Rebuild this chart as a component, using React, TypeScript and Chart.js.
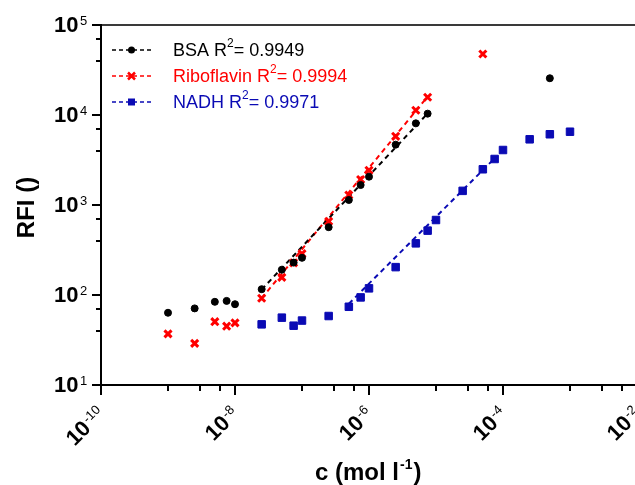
import React, { useEffect, useRef } from "react";
import { Chart, registerables } from "chart.js";

Chart.register(...registerables);

const FONT = '"Liberation Sans", Arial, Helvetica, sans-serif';

// ---- data ----
const bsaX = [1e-9, 2.5e-9, 5e-9, 7.5e-9, 1e-8, 2.5e-8, 5e-8, 7.5e-8, 1e-7, 2.5e-7, 5e-7, 7.5e-7, 1e-6, 2.5e-6, 5e-6, 7.5e-6, 5e-4];
const bsaY = [63.5, 71, 84, 86, 79, 116, 191, 229, 259, 567, 1137, 1667, 2064, 4680, 8080, 10350, 25600];

const riboX = [1e-9, 2.5e-9, 5e-9, 7.5e-9, 1e-8, 2.5e-8, 5e-8, 7.5e-8, 1e-7, 2.5e-7, 5e-7, 7.5e-7, 1e-6, 2.5e-6, 5e-6, 7.5e-6, 5e-5];
const riboY = [37, 29, 50.5, 45, 49, 92, 157, 228, 288, 658, 1291, 1920, 2430, 5800, 11300, 15740, 47600];

const nadhX = [2.5e-8, 5e-8, 7.5e-8, 1e-7, 2.5e-7, 5e-7, 7.5e-7, 1e-6, 2.5e-6, 5e-6, 7.5e-6, 1e-5, 2.5e-5, 5e-5, 7.5e-5, 1e-4, 2.5e-4, 5e-4, 1e-3];
const nadhY = [47.2, 56, 45.6, 52, 58.4, 74, 94, 118.6, 204, 375, 519, 681, 1436, 2494, 3245, 4083, 5370, 6110, 6520];

// linear-fit lines (end points)
const bsaFitX = [2.5e-8, 7.5e-6];
const bsaFitY = [115, 10400];
const riboFitX = [2.5e-8, 7.5e-6];
const riboFitY = [92, 16000];
const nadhFitX = [5e-7, 7.5e-5];
const nadhFitY = [80, 3300];

// legend
const seriesNames = ["BSA", "Riboflavin", "NADH"];
const r2Values = ["0.9949", "0.9994", "0.9971"];

// axes / ticks
const xMajorTicks = [1e-10, 1e-8, 1e-6, 1e-4, 1e-2];
const xTickExponents = ["-10", "-8", "-6", "-4", "-2"];
const xMinorTicks = [1e-9, 3e-9, 6e-9, 1e-7, 3e-7, 6e-7, 1e-5, 3e-5, 6e-5, 1e-3, 3e-3, 6e-3];
const yMajorTicks = [10, 100, 1000, 10000, 100000];
const yTickExponents = ["1", "2", "3", "4", "5"];
const yMinorTicks = [40, 70, 400, 700, 4000, 7000, 40000, 70000];
const xTitleMain = "c (mol l";
const xTitleSup = "-1";
const xTitleEnd = ")";
const yTitle = "RFI ()";

const BLACK = "#000000";
const RED = "#ff0000";
const BLUE = "#0a0ab4";
const colors = [BLACK, RED, BLUE];

const pts = (xs: number[], ys: number[]) => xs.map((x, i) => ({ x, y: ys[i] }));

function drawMarker(ctx: CanvasRenderingContext2D, kind: number, x: number, y: number) {
  ctx.save();
  if (kind === 0) {
    ctx.fillStyle = BLACK;
    ctx.beginPath();
    ctx.arc(x, y, 3.5, 0, Math.PI * 2);
    ctx.fill();
  } else if (kind === 1) {
    ctx.strokeStyle = RED;
    ctx.lineWidth = 2.5;
    const s = 3.5;
    ctx.beginPath();
    ctx.moveTo(x - s, y - s);
    ctx.lineTo(x + s, y + s);
    ctx.moveTo(x + s, y - s);
    ctx.lineTo(x - s, y + s);
    ctx.stroke();
  } else {
    ctx.fillStyle = BLUE;
    ctx.fillRect(x - 3.5, y - 3.5, 7, 7);
  }
  ctx.restore();
}

const decorPlugin = {
  id: "decor",
  afterDraw(chart: any) {
    const ctx: CanvasRenderingContext2D = chart.ctx;
    const xs = chart.scales.x;
    const ys = chart.scales.y;
    const { left, right, top, bottom } = chart.chartArea;
    ctx.save();

    // frame
    ctx.strokeStyle = "#3a3a3a";
    ctx.lineWidth = 2;
    ctx.beginPath();
    ctx.moveTo(left, top);
    ctx.lineTo(right, top);
    ctx.lineTo(right, bottom);
    ctx.stroke();
    ctx.strokeStyle = "#000";
    ctx.beginPath();
    ctx.moveTo(left, top - 1);
    ctx.lineTo(left, bottom);
    ctx.lineTo(right, bottom);
    ctx.stroke();

    // tick marks
    ctx.lineWidth = 2;
    ctx.beginPath();
    for (const v of xMajorTicks) {
      const px = Math.round(xs.getPixelForValue(v));
      ctx.moveTo(px, bottom);
      ctx.lineTo(px, bottom + 10);
    }
    for (const v of xMinorTicks) {
      const px = Math.round(xs.getPixelForValue(v));
      ctx.moveTo(px, bottom);
      ctx.lineTo(px, bottom + 6);
    }
    for (const v of yMajorTicks) {
      const py = Math.round(ys.getPixelForValue(v));
      ctx.moveTo(left, py);
      ctx.lineTo(left - 9, py);
    }
    for (const v of yMinorTicks) {
      const py = Math.round(ys.getPixelForValue(v));
      ctx.moveTo(left, py);
      ctx.lineTo(left - 5, py);
    }
    ctx.stroke();

    // y tick labels
    ctx.fillStyle = "#000";
    yMajorTicks.forEach((v, i) => {
      const py = ys.getPixelForValue(v);
      ctx.font = "bold 22px " + FONT;
      ctx.textAlign = "right";
      ctx.textBaseline = "middle";
      ctx.fillText("10", 78.5, py + 1);
      ctx.font = "13px " + FONT;
      ctx.textAlign = "left";
      ctx.textBaseline = "alphabetic";
      ctx.fillText(yTickExponents[i], 80, py);
    });

    // x tick labels (rotated)
    xMajorTicks.forEach((v, i) => {
      const px = xs.getPixelForValue(v);
      ctx.save();
      ctx.translate(px, bottom + 25.5);
      ctx.rotate(-Math.PI / 4);
      ctx.font = "13px " + FONT;
      const ew = ctx.measureText(xTickExponents[i]).width;
      ctx.textAlign = "right";
      ctx.textBaseline = "alphabetic";
      ctx.fillText(xTickExponents[i], 0, 0);
      ctx.font = "bold 22px " + FONT;
      ctx.textBaseline = "middle";
      ctx.fillText("10", -ew - 1, 1);
      ctx.restore();
    });

    // axis titles
    ctx.save();
    ctx.translate(33.5, 207.5);
    ctx.rotate(-Math.PI / 2);
    ctx.font = "bold 24px " + FONT;
    ctx.textAlign = "center";
    ctx.textBaseline = "alphabetic";
    ctx.fillText(yTitle, 0, 0);
    ctx.restore();

    {
      let x = 315;
      const by = 480;
      ctx.textAlign = "left";
      ctx.textBaseline = "alphabetic";
      ctx.font = "bold 24px " + FONT;
      ctx.fillText(xTitleMain, x, by);
      x += ctx.measureText(xTitleMain).width + 1;
      ctx.font = "bold 14px " + FONT;
      ctx.fillText(xTitleSup, x, by - 11);
      x += ctx.measureText(xTitleSup).width + 1;
      ctx.font = "bold 24px " + FONT;
      ctx.fillText(xTitleEnd, x, by);
    }

    // legend
    const rows = [50, 76, 102];
    seriesNames.forEach((name, i) => {
      const y = rows[i];
      ctx.save();
      ctx.strokeStyle = colors[i];
      ctx.lineWidth = 1.5;
      ctx.setLineDash([4, 3]);
      ctx.beginPath();
      ctx.moveTo(112, y);
      ctx.lineTo(151, y);
      ctx.stroke();
      ctx.restore();
      drawMarker(ctx, i, 131.5, y);

      ctx.fillStyle = colors[i];
      ctx.textAlign = "left";
      ctx.textBaseline = "middle";
      let x = 173;
      ctx.font = "18px " + FONT;
      const a = name + " R";
      ctx.fillText(a, x, y + 1);
      x += ctx.measureText(a).width;
      ctx.font = "12px " + FONT;
      ctx.fillText("2", x, y - 6);
      x += ctx.measureText("2").width;
      ctx.font = "18px " + FONT;
      ctx.fillText("= " + r2Values[i], x, y + 1);
    });

    ctx.restore();
  },
};

export default function App() {
  const ref = useRef<HTMLCanvasElement>(null);
  useEffect(() => {
    const chart = new Chart(ref.current as HTMLCanvasElement, {
      type: "scatter",
      data: {
        datasets: [
          {
            label: "BSA",
            data: pts(bsaX, bsaY),
            showLine: false,
            pointStyle: "circle",
            pointRadius: 3.5,
            pointBorderWidth: 1,
            backgroundColor: BLACK,
            borderColor: BLACK,
            order: 0,
          },
          {
            label: "Riboflavin",
            data: pts(riboX, riboY),
            showLine: false,
            pointStyle: "crossRot",
            pointRadius: 5,
            pointBorderWidth: 3,
            backgroundColor: RED,
            borderColor: RED,
            order: 0,
          },
          {
            label: "NADH",
            data: pts(nadhX, nadhY),
            showLine: false,
            pointStyle: "rect",
            pointRadius: 5.3,
            pointBorderWidth: 1,
            backgroundColor: BLUE,
            borderColor: BLUE,
            order: 0,
          },
          {
            label: "BSA fit",
            data: pts(bsaFitX, bsaFitY),
            showLine: true,
            pointRadius: 0,
            borderColor: BLACK,
            borderWidth: 2,
            borderDash: [5, 4],
            order: 1,
          },
          {
            label: "Riboflavin fit",
            data: pts(riboFitX, riboFitY),
            showLine: true,
            pointRadius: 0,
            borderColor: RED,
            borderWidth: 2,
            borderDash: [5, 4],
            order: 1,
          },
          {
            label: "NADH fit",
            data: pts(nadhFitX, nadhFitY),
            showLine: true,
            pointRadius: 0,
            borderColor: BLUE,
            borderWidth: 2,
            borderDash: [5, 4],
            order: 1,
          },
        ],
      },
      options: {
        responsive: false,
        animation: false,
        devicePixelRatio: 1,
        layout: { padding: { top: 25, right: 6, left: 0, bottom: 0 } },
        plugins: { legend: { display: false }, tooltip: { enabled: false } },
        scales: {
          x: {
            type: "logarithmic",
            position: "bottom",
            min: 1e-10,
            max: 1e-2,
            ticks: { display: false },
            grid: { display: false },
            border: { display: false },
            afterFit: (s: any) => {
              s.height = 100;
            },
          },
          y: {
            type: "logarithmic",
            position: "left",
            min: 10,
            max: 100000,
            ticks: { display: false },
            grid: { display: false },
            border: { display: false },
            afterFit: (s: any) => {
              s.width = 101;
            },
          },
        },
      },
      plugins: [decorPlugin],
    } as any);
    return () => chart.destroy();
  }, []);
  return (
    <div
      style={{
        position: "fixed",
        left: 0,
        top: 0,
        width: 635,
        height: 485,
        overflow: "hidden",
        background: "#fff",
      }}
    >
      <canvas ref={ref} width={645} height={485} style={{ display: "block", width: 645, height: 485 }} />
    </div>
  );
}
